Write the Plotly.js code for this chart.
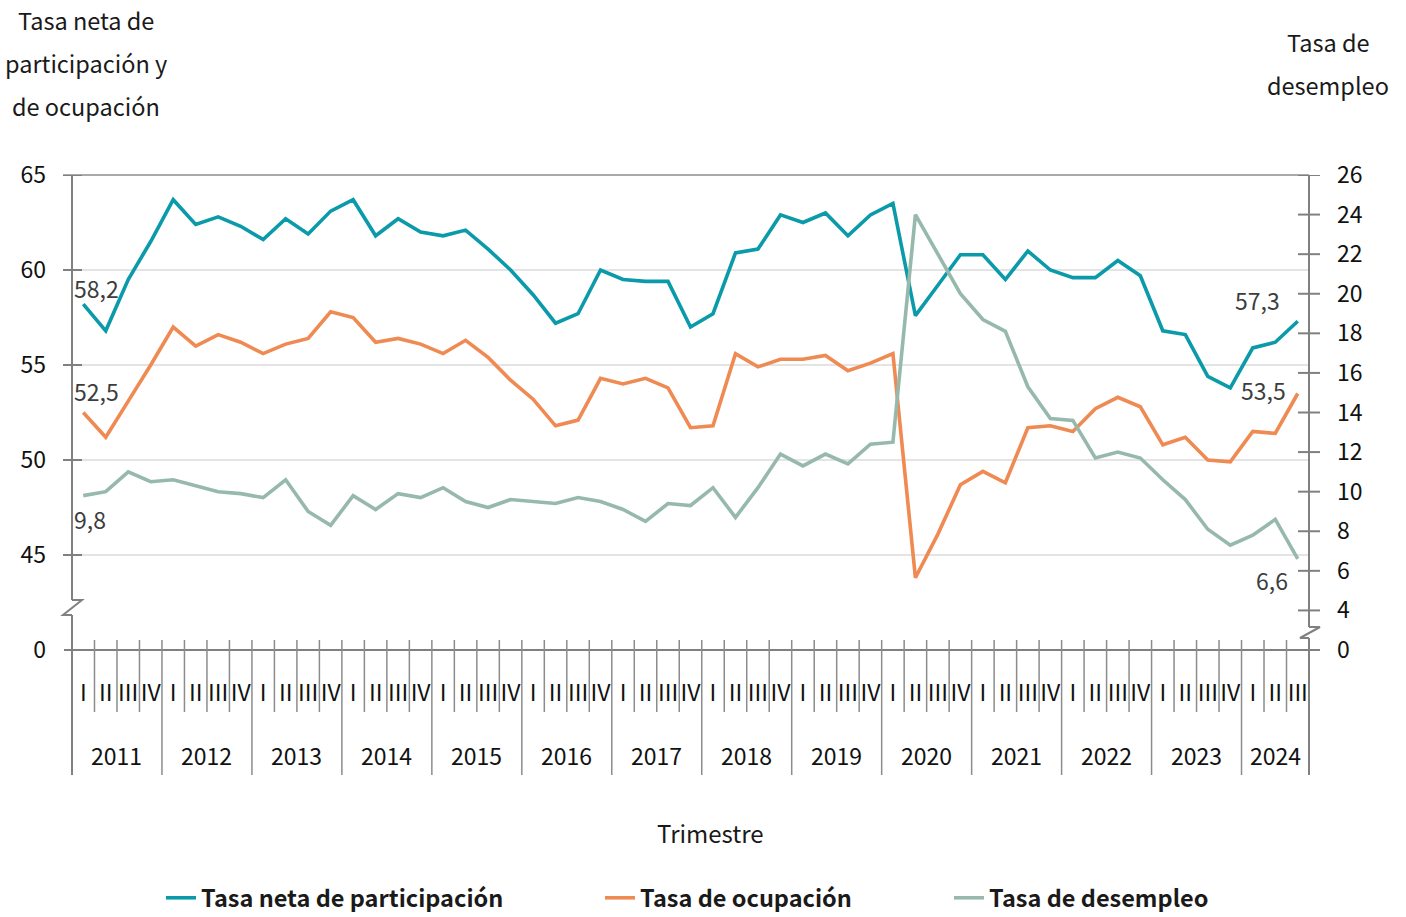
<!DOCTYPE html>
<html>
<head>
<meta charset="utf-8">
<script src="https://cdn.plot.ly/plotly-3.0.1.min.js"></script>
<style>
  html, body { margin: 0; padding: 0; background: #ffffff; }
  #chart { width: 1406px; height: 917px; }
</style>
</head>
<body>
<div id="chart"></div>
<script>
// ---- Data ----
const quarterLabels = [
  'I','II','III','IV', 'I','II','III','IV', 'I','II','III','IV', 'I','II','III','IV',
  'I','II','III','IV', 'I','II','III','IV', 'I','II','III','IV', 'I','II','III','IV',
  'I','II','III','IV', 'I','II','III','IV', 'I','II','III','IV', 'I','II','III','IV',
  'I','II','III','IV', 'I','II','III'
];
const yearLabels = ['2011','2012','2013','2014','2015','2016','2017','2018','2019','2020','2021','2022','2023','2024'];
const quartersPerYear = [4,4,4,4,4,4,4,4,4,4,4,4,4,3];

const participacion = [58.2,56.8,59.5,61.5,63.7,62.4,62.8,62.3,61.6,62.7,61.9,63.1,63.7,61.8,
  62.7,62.0,61.8,62.1,61.1,60.0,58.7,57.2,57.7,60.0,59.5,59.4,59.4,57.0,
  57.7,60.9,61.1,62.9,62.5,63.0,61.8,62.9,63.5,57.6,59.2,60.8,60.8,
  59.5,61.0,60.0,59.6,59.6,60.5,59.7,56.8,56.6,54.4,53.8,55.9,56.2,57.3];
const ocupacion = [52.5,51.2,53.1,55.0,57.0,56.0,56.6,56.2,55.6,56.1,56.4,57.8,57.5,56.2,
  56.4,56.1,55.6,56.3,55.4,54.2,53.2,51.8,52.1,54.3,54.0,54.3,53.8,51.7,
  51.8,55.6,54.9,55.3,55.3,55.5,54.7,55.1,55.6,43.8,46.1,48.7,49.4,
  48.8,51.7,51.8,51.5,52.7,53.3,52.8,50.8,51.2,50.0,49.9,51.5,51.4,53.5];
const desempleo = [9.8,10.0,11.0,10.5,10.6,10.3,10.0,9.9,9.7,10.6,9.0,8.3,9.8,9.1,
  9.9,9.7,10.2,9.5,9.2,9.6,9.5,9.4,9.7,9.5,9.1,8.5,9.4,9.3,
  10.2,8.7,10.2,11.9,11.3,11.9,11.4,12.4,12.5,24.0,22.0,20.0,18.7,
  18.1,15.3,13.7,13.6,11.7,12.0,11.7,10.6,9.6,8.1,7.3,7.8,8.6,6.6];

const seriesNames = ['Tasa neta de participación', 'Tasa de ocupación', 'Tasa de desempleo'];
const seriesColors = ['#0a9aa9', '#ee8a52', '#97b9ac'];

const leftTickVals = [40, 45, 50, 55, 60, 65];
const leftTickText = ['0', '45', '50', '55', '60', '65'];
const rightTickVals = [2, 4, 6, 8, 10, 12, 14, 16, 18, 20, 22, 24, 26];
const rightTickText = ['0', '4', '6', '8', '10', '12', '14', '16', '18', '20', '22', '24', '26'];

const leftTitleLines = ['Tasa neta de', 'participación y', 'de ocupación'];
const rightTitleLines = ['Tasa de', 'desempleo'];
const xTitle = 'Trimestre';

// ---- Layout helpers ----
const FONT = '"Noto Sans CJK SC", "Noto Sans", sans-serif';
const L = 72, T = 175, W = 1237, H = 475;
const px = v => (v - L) / W;
const py = v => (T + H - v) / H;
const AXC = '#808080';

const xIdx = quarterLabels.map((_, i) => i);

// year centres and boundaries on the category axis
const yearCentres = [];
const yearBounds = [];
let start = 0;
quartersPerYear.forEach(n => {
  yearCentres.push(start + (n - 1) / 2);
  start += n;
  yearBounds.push(start - 0.5);
});
const yearBoundSet = new Set(yearBounds.map(v => v.toFixed(1)));

const traces = [
  { x: xIdx, y: participacion, name: seriesNames[0], type: 'scatter', mode: 'lines',
    line: { color: seriesColors[0], width: 3.6 }, legend: 'legend', hoverinfo: 'y' },
  { x: xIdx, y: ocupacion, name: seriesNames[1], type: 'scatter', mode: 'lines',
    line: { color: seriesColors[1], width: 3.6 }, legend: 'legend2', hoverinfo: 'y' },
  { x: xIdx, y: desempleo, name: seriesNames[2], type: 'scatter', mode: 'lines', yaxis: 'y2',
    line: { color: seriesColors[2], width: 3.6 }, legend: 'legend3', hoverinfo: 'y' }
];

const shapes = [];
const line = (o) => shapes.push(Object.assign({ type: 'line', layer: 'above', line: { color: AXC, width: 2 } }, o));

// top border
line({ xref: 'paper', yref: 'paper', x0: px(63), x1: 1, y0: 1, y1: 1, line: { color: '#a9a9a9', width: 2 } });
// left axis with break
line({ xref: 'paper', yref: 'paper', x0: 0, x1: 0, y0: 1, y1: py(600) });
line({ xref: 'paper', yref: 'paper', x0: 0, x1: 0, y0: py(615), y1: py(775) });
shapes.push({ type: 'path', xref: 'paper', yref: 'paper', layer: 'above', line: { color: AXC, width: 2 },
  path: `M ${px(72)} ${py(600)} L ${px(82)} ${py(600)} L ${px(63)} ${py(615)} L ${px(72)} ${py(615)}` });
// right axis with break
line({ xref: 'paper', yref: 'paper', x0: 1, x1: 1, y0: 1, y1: py(627) });
line({ xref: 'paper', yref: 'paper', x0: 1, x1: 1, y0: py(638), y1: py(775) });
shapes.push({ type: 'path', xref: 'paper', yref: 'paper', layer: 'above', line: { color: AXC, width: 2 },
  path: `M ${px(1309)} ${py(627)} L ${px(1320)} ${py(627)} L ${px(1300)} ${py(638)} L ${px(1309)} ${py(638)}` });
// x axis line
line({ xref: 'paper', yref: 'paper', x0: px(64), x1: px(1320), y0: 0, y1: 0 });
// left ticks
leftTickVals.filter(v => v > 40).forEach(v => line({ xref: 'paper', yref: 'y', x0: px(63), x1: px(82), y0: v, y1: v }));
// right ticks
rightTickVals.filter(v => v > 2).forEach(v => line({ xref: 'paper', yref: 'y2', x0: px(1298), x1: px(1320), y0: v, y1: v }));
// quarter / year separators
for (let i = 0; i < xIdx.length - 1; i++) {
  const b = i + 0.5;
  const isYear = yearBoundSet.has(b.toFixed(1));
  line({ xref: 'x', yref: 'paper', x0: b, x1: b, y0: py(640), y1: py(isYear ? 775 : 712), line: { color: '#8c8c8c', width: 1.5 } });
}

const annotations = [];
const ann = (o) => annotations.push(Object.assign({ showarrow: false, font: { family: FONT, size: 23.5, color: '#1a1a1a' } }, o));
leftTitleLines.forEach((t, k) => ann({ text: t, xref: 'paper', yref: 'paper', x: px(86), y: py(20 + 43 * k), xanchor: 'center', yanchor: 'middle' }));
rightTitleLines.forEach((t, k) => ann({ text: t, xref: 'paper', yref: 'paper', x: px(1328), y: py(42 + 43 * k), xanchor: 'center', yanchor: 'middle' }));
ann({ text: xTitle, xref: 'paper', yref: 'paper', x: px(710), y: py(832), xanchor: 'center', yanchor: 'middle',
  font: { family: FONT, size: 24, color: '#1a1a1a' } });
// year labels under the quarter labels
yearLabels.forEach((t, k) => ann({ text: t, xref: 'x', yref: 'paper', x: yearCentres[k], y: py(755), xanchor: 'center', yanchor: 'middle',
  font: { family: FONT, size: 23, color: '#111111' } }));

// data labels
const fmt = v => v.toFixed(1).replace('.', ',');
const last = xIdx.length - 1;
const lab = (x, y, yref, xs, ys) => ann({ text: fmt(y), x: x, y: y, xref: 'x', yref: yref, xanchor: 'center', yanchor: 'middle', xshift: xs, yshift: ys, font: { family: FONT, size: 23, color: '#3d3d3d' } });
lab(0, participacion[0], 'y', 13, 16);
lab(0, ocupacion[0], 'y', 13, 22);
lab(0, desempleo[0], 'y2', 7, -23);
lab(last, participacion[last], 'y', -40, 21);
lab(last, ocupacion[last], 'y', -34, 4);
lab(last, desempleo[last], 'y2', -26, -21);

const legendBase = { orientation: 'h', xanchor: 'left', yanchor: 'middle', y: py(898), bgcolor: 'rgba(0,0,0,0)',
  font: { family: FONT, size: 23.5, color: '#1a1a1a', weight: 'bold' } };

const layout = {
  width: 1406, height: 917,
  margin: { l: L, r: 1406 - L - W, t: T, b: 917 - T - H, pad: 0, autoexpand: false },
  paper_bgcolor: '#ffffff', plot_bgcolor: '#ffffff',
  showlegend: true,
  legend: Object.assign({}, legendBase, { x: px(161) }),
  legend2: Object.assign({}, legendBase, { x: px(600) }),
  legend3: Object.assign({}, legendBase, { x: px(949) }),
  xaxis: {
    range: [-0.5, xIdx.length - 0.5], showgrid: false, zeroline: false, showline: false,
    tickmode: 'array', tickvals: xIdx, ticktext: quarterLabels, ticks: '',
    ticklabelstandoff: 27, tickangle: 0,
    tickfont: { family: FONT, size: 23, color: '#111111' }
  },
  yaxis: {
    range: [40, 65], showgrid: true, gridcolor: '#e4e4e4', gridwidth: 2, zeroline: false, showline: false,
    tickmode: 'array', tickvals: leftTickVals, ticktext: leftTickText, ticks: '',
    ticklabelstandoff: 25, tickfont: { family: FONT, size: 23, color: '#111111' }
  },
  yaxis2: {
    overlaying: 'y', side: 'right', anchor: 'x',
    range: [2, 26], showgrid: false, zeroline: false, showline: false,
    tickmode: 'array', tickvals: rightTickVals, ticktext: rightTickText, ticks: '',
    ticklabelstandoff: 27, tickfont: { family: FONT, size: 23, color: '#111111' }
  },
  shapes: shapes,
  annotations: annotations
};

Plotly.newPlot('chart', traces, layout, { staticPlot: true, displayModeBar: false });
</script>
</body>
</html>
